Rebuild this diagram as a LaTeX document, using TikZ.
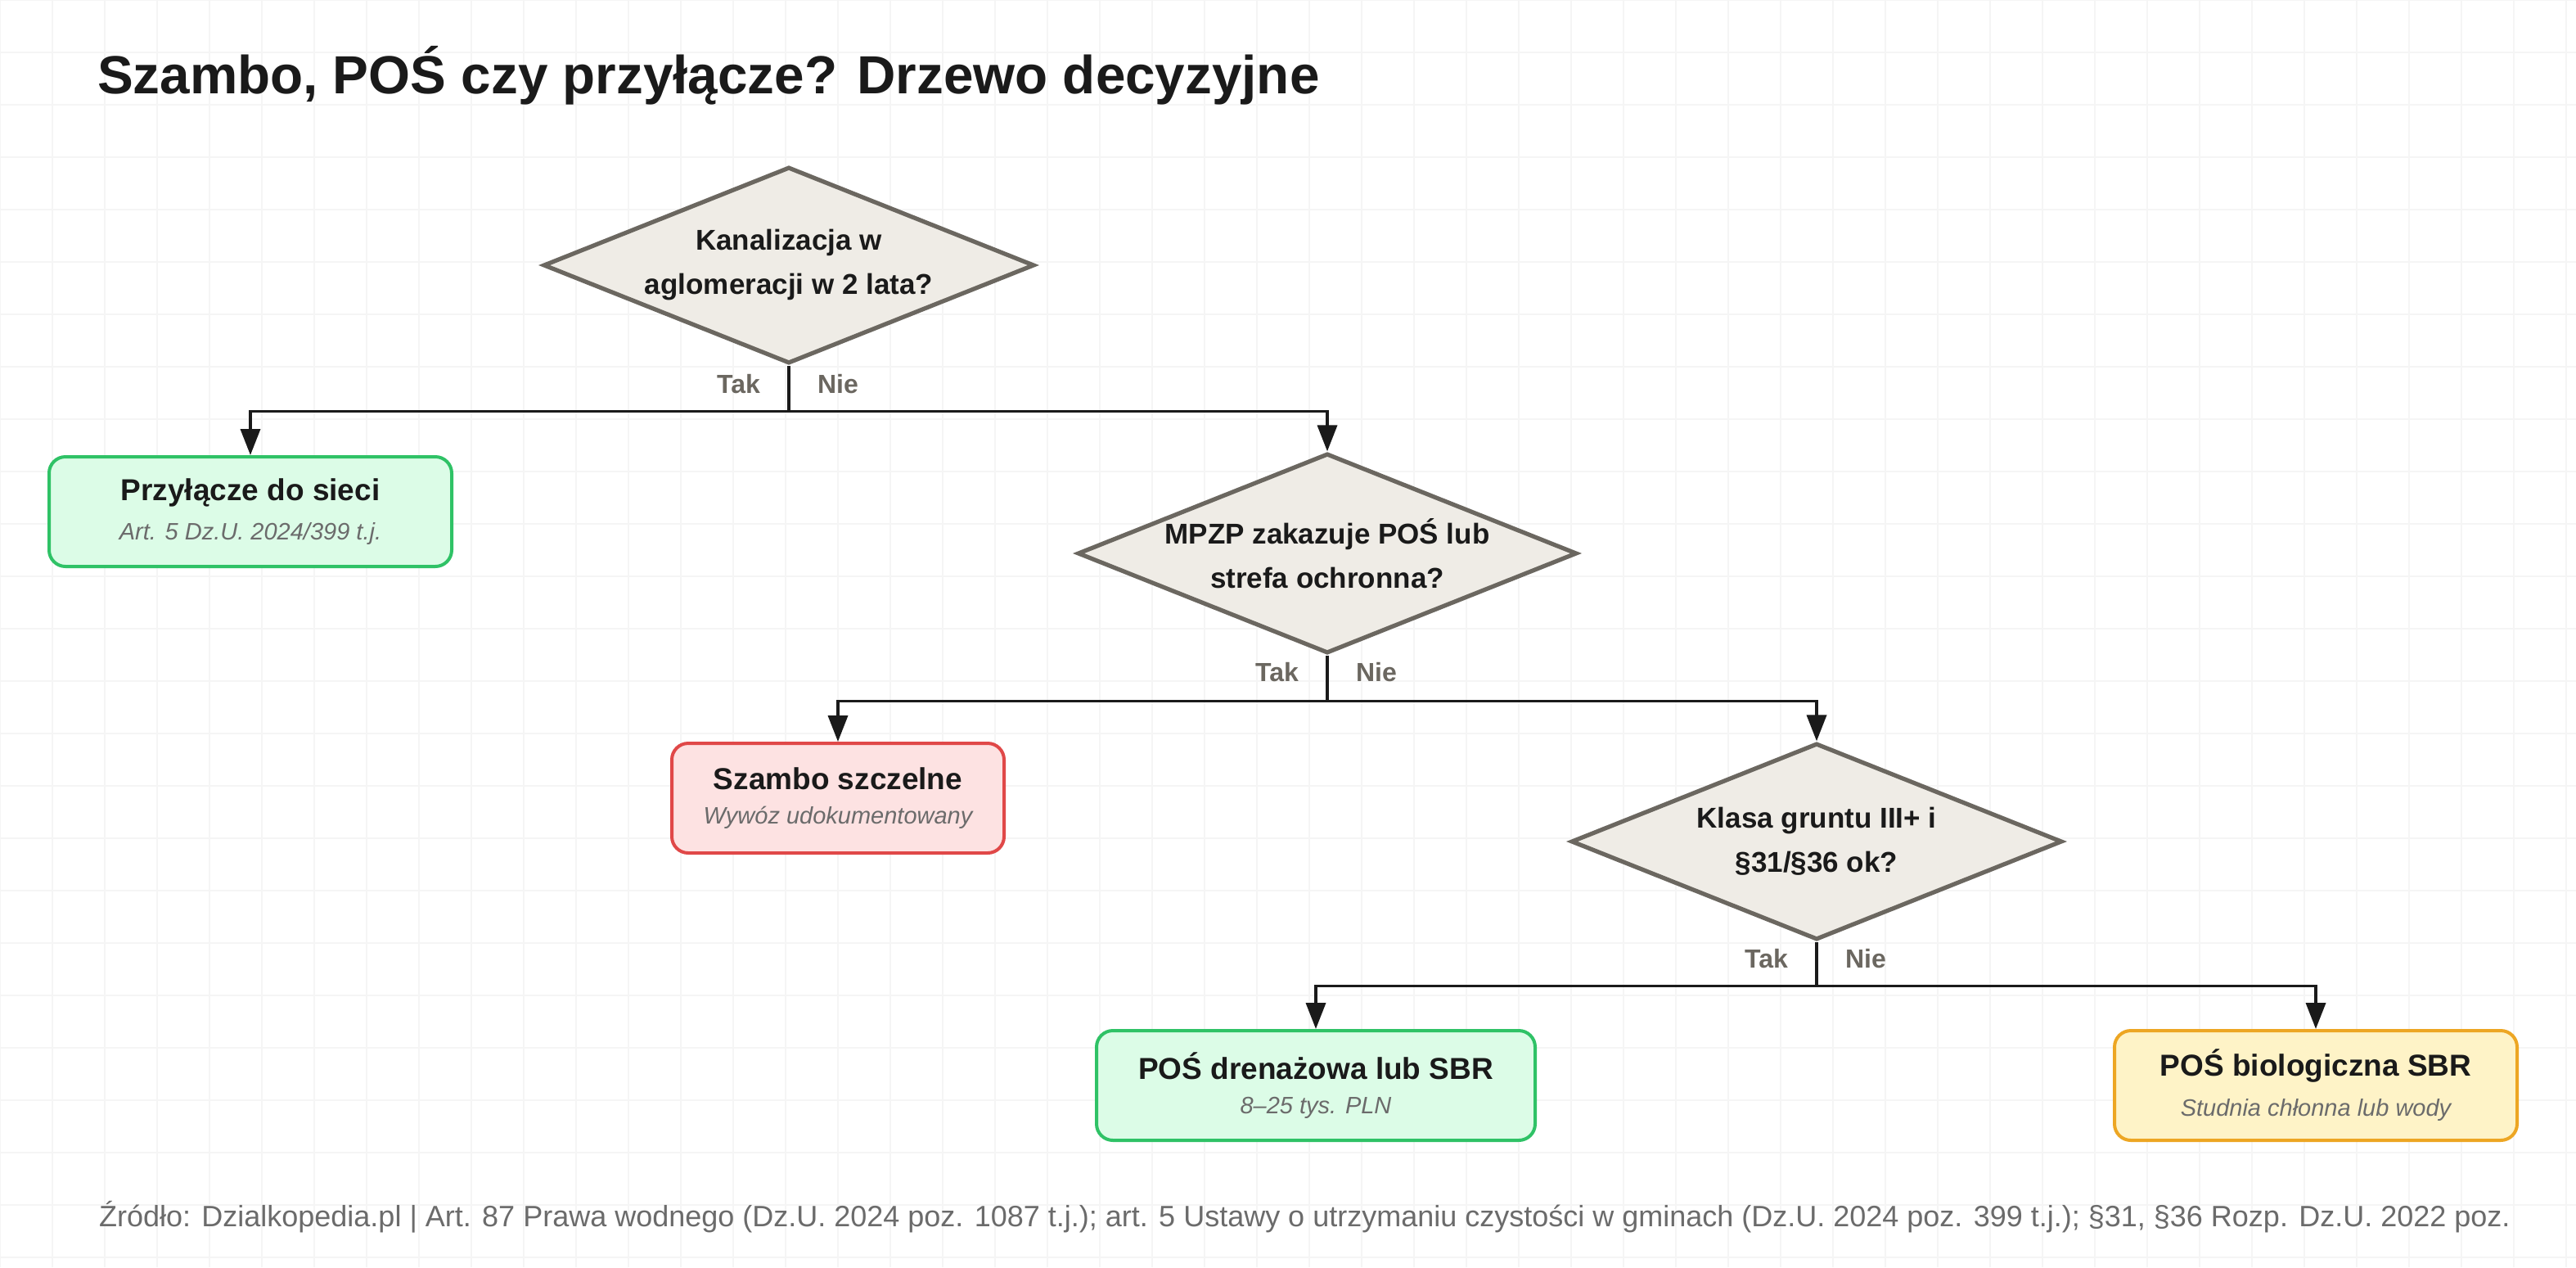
\documentclass[tikz,border=0pt]{standalone}
\usepackage{fontspec}
\setmainfont{Liberation Sans}
\usetikzlibrary{shapes.geometric,arrows.meta,positioning}
\definecolor{gridc}{HTML}{F5F5F5}
\definecolor{qfill}{HTML}{EFECE6}
\definecolor{qdraw}{HTML}{6B6760}
\definecolor{ink}{HTML}{1A1A1A}
\definecolor{subc}{HTML}{6B6B6B}
\definecolor{gfill}{HTML}{DCFCE7}
\definecolor{gdraw}{HTML}{2FC266}
\definecolor{rfill}{HTML}{FDE2E2}
\definecolor{rdraw}{HTML}{E04848}
\definecolor{yfill}{HTML}{FEF3C7}
\definecolor{ydraw}{HTML}{EDA623}
\tikzset{
  question/.style={diamond, draw=qdraw, fill=qfill, line width=2.6pt,
    minimum width=300pt, minimum height=120pt, inner sep=0pt, aspect=2.5,
    align=center, text=ink, font=\fontsize{17.5}{27}\selectfont\bfseries},
  answer/.style={rounded corners=10pt, line width=2pt, inner sep=0pt,
    minimum height=67pt, align=center, text=ink},
  arr/.style={-{Triangle[length=16pt,width=12pt]}, line width=1.8pt, draw=ink},
  yesno/.style={text=qdraw, font=\fontsize{16}{18}\selectfont\bfseries},
}
\newcommand{\ans}[2]{{\fontsize{18.5}{20}\selectfont\bfseries #1}\\[9pt]{\fontsize{14.5}{16}\selectfont\itshape\color{subc}#2}}
\begin{document}
\begin{tikzpicture}[x=1pt,y=-1pt]
  \useasboundingbox[fill=white] (0,0) rectangle (1574,774);
  % tlo w kratke
  \draw[gridc, line width=0.8pt] (0,0) grid[step=32pt] (1574,774);

  \node[anchor=base west, text=ink, font=\fontsize{32.8}{36}\selectfont\bfseries] (title) at (56,57)
    {Szambo, POŚ czy przyłącze? Drzewo decyzyjne};

  % pytania
  \node[question] (q1) at (482,162) {Kanalizacja w\\aglomeracji w 2 lata?};
  \node[question] (q2) at (811,338) {MPZP zakazuje POŚ lub\\strefa ochronna?};
  \node[question] (q3) at (1110,514) {Klasa gruntu III+ i\\§31/§36 ok?};

  % odpowiedzi
  \node[answer, fill=gfill, draw=gdraw, minimum width=246pt] (przylacze) at (153,312.5)
    {\ans{Przyłącze do sieci}{Art. 5 Dz.U. 2024/399 t.j.}};
  \node[answer, fill=rfill, draw=rdraw, minimum width=203pt] (szambo) at (512,487.5)
    {\ans{Szambo szczelne}{Wywóz udokumentowany}};
  \node[answer, fill=gfill, draw=gdraw, minimum width=268pt] (drenaz) at (804,663)
    {\ans{POŚ drenażowa lub SBR}{8–25 tys. PLN}};
  \node[answer, fill=yfill, draw=ydraw, minimum width=246pt] (biol) at (1415,663)
    {\ans{POŚ biologiczna SBR}{Studnia chłonna lub wody}};

  % polaczenia
  \draw[line width=1.8pt, ink] (q1.south) -- ++(0,28) coordinate (j1);
  \draw[arr] (j1) -| (przylacze.north);
  \draw[arr] (j1) -| (q2.north);
  \draw[line width=1.8pt, ink] (q2.south) -- ++(0,28) coordinate (j2);
  \draw[arr] (j2) -| (szambo.north);
  \draw[arr] (j2) -| (q3.north);
  \draw[line width=1.8pt, ink] (q3.south) -- ++(0,27) coordinate (j3);
  \draw[arr] (j3) -| (drenaz.north);
  \draw[arr] (j3) -| (biol.north);

  \node[yesno, anchor=east] (tak1) at ([shift={(-14,11)}]q1.south) {Tak};
  \node[yesno, anchor=west] (nie1) at ([shift={(14,11)}]q1.south) {Nie};
  \node[yesno, anchor=east] (tak2) at ([shift={(-14,10)}]q2.south) {Tak};
  \node[yesno, anchor=west] (nie2) at ([shift={(14,10)}]q2.south) {Nie};
  \node[yesno, anchor=east] (tak3) at ([shift={(-14,10)}]q3.south) {Tak};
  \node[yesno, anchor=west] (nie3) at ([shift={(14,10)}]q3.south) {Nie};

  % zrodlo
  \node[anchor=base west, text=subc, font=\fontsize{18}{20}\selectfont] (zrodlo) at (57,749)
    {Źródło: Dzialkopedia.pl | Art. 87 Prawa wodnego (Dz.U. 2024 poz. 1087 t.j.); art. 5 Ustawy o utrzymaniu czystości w gminach (Dz.U. 2024 poz. 399 t.j.); §31, §36 Rozp. Dz.U. 2022 poz.};
\end{tikzpicture}
\end{document}
